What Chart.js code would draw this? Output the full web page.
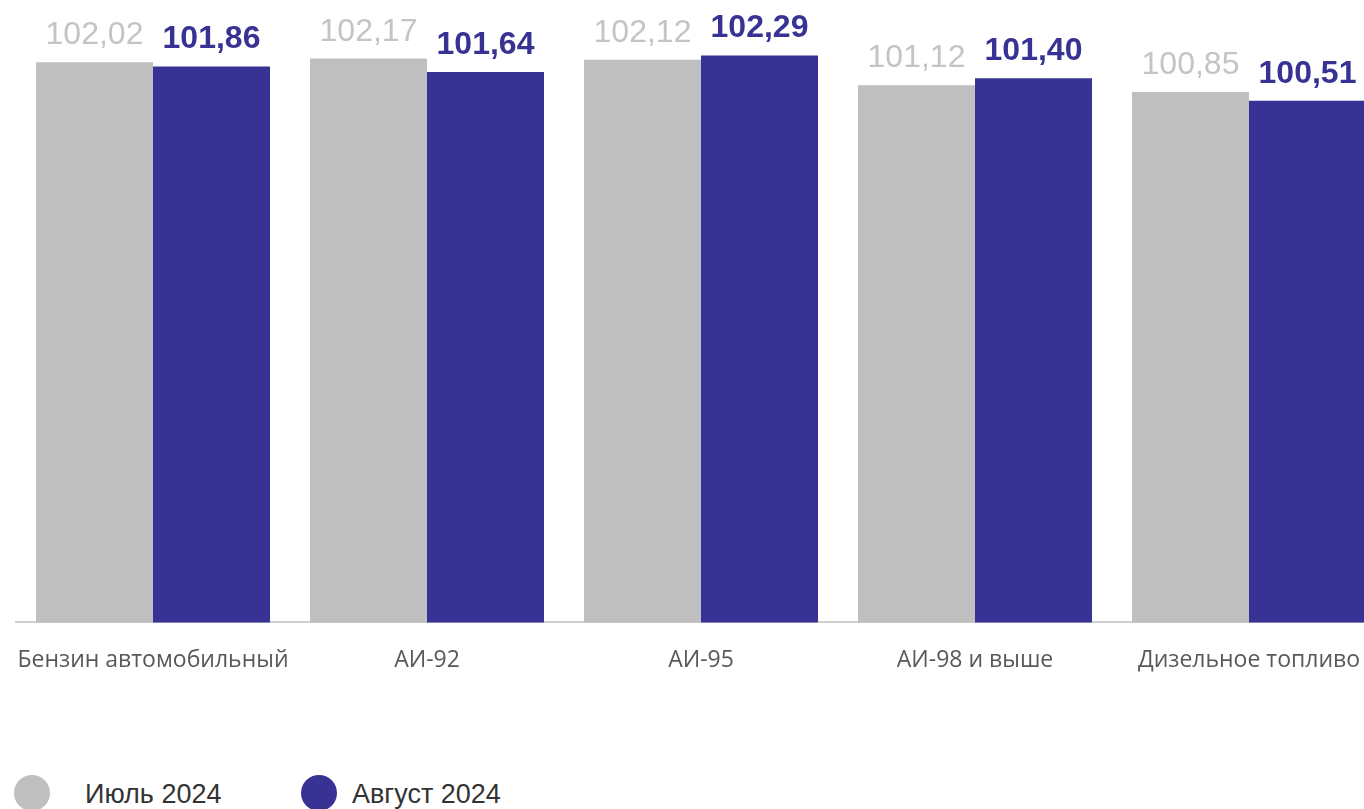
<!DOCTYPE html>
<html lang="ru">
<head>
<meta charset="utf-8">
<title>Индексы цен на топливо</title>
<script src="https://cdn.jsdelivr.net/npm/chart.js@4.4.1/dist/chart.umd.min.js"></script>
<style>
    html, body { margin: 0; padding: 0; background: #fff; overflow: hidden; }
    body { width: 1364px; height: 809px; position: relative; }
    #chart-wrap { position: absolute; left: 0; top: 0; width: 1390px; height: 708px; }
    .legend { position: absolute; top: 775px; left: 0; font-family: "Liberation Sans", Arial, sans-serif; font-size: 27px; color: #333; }
    .legend-item { position: absolute; white-space: nowrap; }
    .legend-dot { position: absolute; width: 36px; height: 36px; border-radius: 50%; top: 0; }
    .legend-text { position: absolute; top: 4px; }
</style>
</head>
<body>
<div id="chart-wrap"><canvas id="fuelChart"></canvas></div>
<div class="legend" id="legend"></div>
<script>
const categories = ['Бензин автомобильный', 'АИ-92', 'АИ-95', 'АИ-98 и выше', 'Дизельное топливо'];
const julyValues = [102.02, 102.17, 102.12, 101.12, 100.85];
const augustValues = [101.86, 101.64, 102.29, 101.40, 100.51];
const seriesNames = ['Июль 2024', 'Август 2024'];

const grayColor = '#bfbfbf';
const blueColor = '#373294';

const formatValue = (v) => v.toFixed(2).replace('.', ',');

// подписи значений над столбцами
const valueLabels = {
    id: 'valueLabels',
    afterDatasetsDraw(chart) {
        const { ctx } = chart;
        chart.data.datasets.forEach((ds, i) => {
            const meta = chart.getDatasetMeta(i);
            ctx.save();
            ctx.font = (i === 1 ? 'bold ' : '') + '32px "Liberation Sans", Arial, sans-serif';
            ctx.fillStyle = i === 1 ? blueColor : '#c4c4c4';
            ctx.textAlign = 'center';
            ctx.textBaseline = 'alphabetic';
            meta.data.forEach((bar, j) => {
                ctx.fillText(formatValue(ds.data[j]), bar.x, bar.y - 18);
            });
            ctx.restore();
        });
    },
};

new Chart(document.getElementById('fuelChart'), {
    type: 'bar',
    data: {
        labels: categories,
        datasets: [
            {
                label: seriesNames[0],
                data: julyValues,
                backgroundColor: grayColor,
                borderWidth: 0,
                categoryPercentage: 0.854,
                barPercentage: 1,
            },
            {
                label: seriesNames[1],
                data: augustValues,
                backgroundColor: blueColor,
                borderWidth: 0,
                categoryPercentage: 0.854,
                barPercentage: 1,
            },
        ],
    },
    options: {
        responsive: true,
        maintainAspectRatio: false,
        animation: false,
        layout: {
            padding: { left: 16, right: 4, top: 12, bottom: 10 },
        },
        plugins: {
            legend: { display: false },
            tooltip: { enabled: false },
        },
        scales: {
            x: {
                grid: { display: false, drawTicks: false },
                border: { display: true, color: '#d0d0d0', width: 2 },
                ticks: {
                    padding: 24,
                    maxRotation: 0,
                    minRotation: 0,
                    autoSkip: false,
                    color: '#595959',
                    font: { family: '"Open Sans", sans-serif', size: 23 },
                },
                // подписи не должны сдвигать область графика
                afterFit: (scale) => {
                    scale.paddingLeft = 0;
                    scale.paddingRight = 0;
                },
            },
            y: {
                display: false,
                min: 80,
                max: 104,
            },
        },
    },
    plugins: [valueLabels],
});

// легенда внизу
const legendEl = document.getElementById('legend');
const legendPos = [14, 301];
[grayColor, blueColor].forEach((color, i) => {
    const item = document.createElement('div');
    item.className = 'legend-item';
    item.style.left = legendPos[i] + 'px';
    item.innerHTML = '<span class="legend-dot" style="background:' + color + '"></span>' +
        '<span class="legend-text" style="left:' + (i === 0 ? 71 : 51) + 'px">' + seriesNames[i] + '</span>';
    legendEl.appendChild(item);
});
</script>
</body>
</html>
